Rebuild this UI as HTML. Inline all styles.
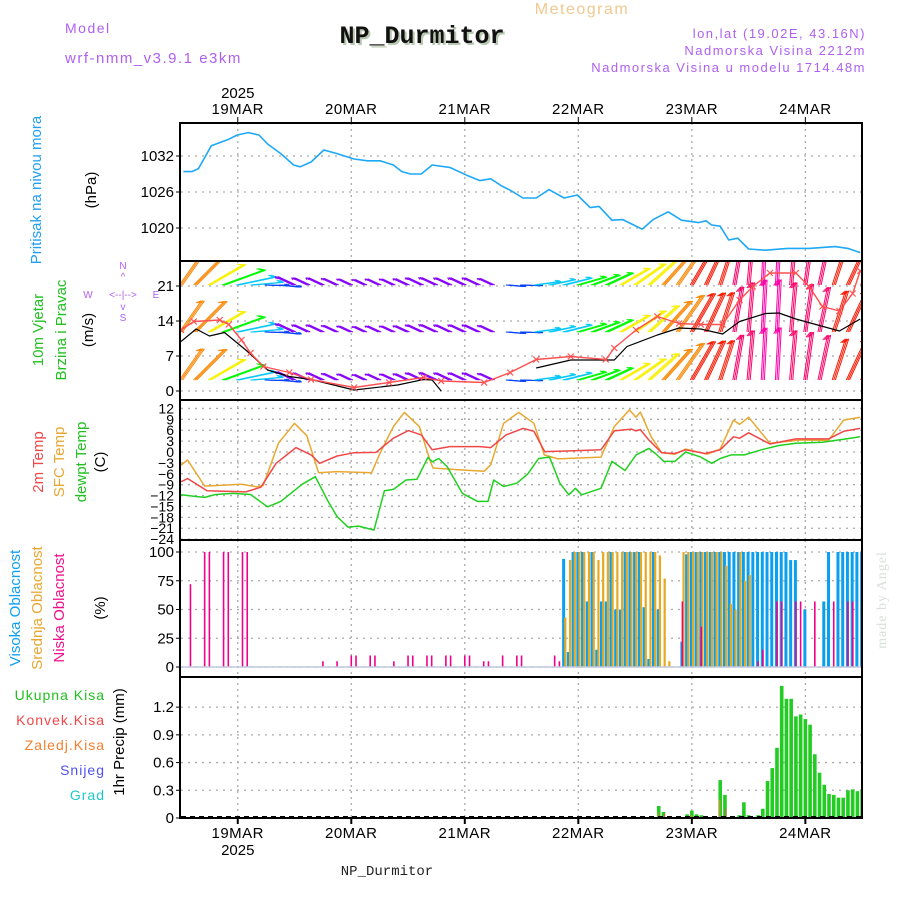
<!DOCTYPE html>
<html><head><meta charset="utf-8"><style>
body{margin:0;background:#fff;}
svg{display:block;font-family:"Liberation Sans",sans-serif;}
.hd{font-family:"Liberation Sans",sans-serif;font-size:14px;letter-spacing:1.5px;fill:#b060f0;}
.tk{font-size:15px;fill:#000;}
.vl{font-size:15px;}
</style></head><body>
<svg id="chart" width="900" height="900" viewBox="0 0 900 900">
<defs>
<clipPath id="cp1"><rect x="181" y="124" width="680" height="136"/></clipPath>
<clipPath id="cp2"><rect x="181" y="262" width="680" height="137"/></clipPath>
<clipPath id="cp3"><rect x="181" y="401" width="680" height="138"/></clipPath>
<clipPath id="cp4"><rect x="181" y="541" width="680" height="135"/></clipPath>
<clipPath id="cp5"><rect x="181" y="678" width="680" height="139"/></clipPath>
</defs>
<text x="65" y="33" class="hd">Model</text>
<text x="65" y="63" class="hd" style="font-size:15px">wrf-nmm_v3.9.1 e3km</text>
<text x="582" y="14" text-anchor="middle" style="font-size:16px;letter-spacing:1.5px;fill:#f0c890">Meteogram</text>
<text x="424" y="45" text-anchor="middle" style="font-family:'Liberation Mono','Courier New',monospace;font-weight:bold;font-size:25px;fill:#b8c8b0">NP_Durmitor</text>
<text x="422" y="43" text-anchor="middle" style="font-family:'Liberation Mono','Courier New',monospace;font-weight:bold;font-size:25px;fill:#111">NP_Durmitor</text>
<text x="866" y="38" text-anchor="end" class="hd" style="font-size:13px">lon,lat (19.02E, 43.16N)</text>
<text x="866" y="55" text-anchor="end" class="hd" style="font-size:13px">Nadmorska Visina 2212m</text>
<text x="866" y="72" text-anchor="end" class="hd" style="font-size:13px">Nadmorska Visina u modelu 1714.48m</text>

<g id="grid"></g>
<g id="marks"></g>
<g id="frames"></g>
<g id="axes"></g>

<text transform="translate(41,190) rotate(-90)" text-anchor="middle" class="vl" style="fill:#20a0f0">Pritisak na nivou mora</text>
<text transform="translate(96,190) rotate(-90)" text-anchor="middle" class="vl">(hPa)</text>
<text transform="translate(43,330) rotate(-90)" text-anchor="middle" class="vl" style="fill:#20c020">10m Vjetar</text>
<text transform="translate(66,330) rotate(-90)" text-anchor="middle" class="vl" style="fill:#20c020">Brzina i Pravac</text>
<text transform="translate(93,330) rotate(-90)" text-anchor="middle" class="vl">(m/s)</text>
<g style="font-size:10px;fill:#b060f0">
<text x="123" y="269" text-anchor="middle">N</text><text x="123" y="280" text-anchor="middle">^</text>
<text x="88" y="298" text-anchor="middle">W</text><text x="123" y="298" text-anchor="middle">&lt;--|--&gt;</text>
<text x="156" y="298" text-anchor="middle">E</text><text x="123" y="310" text-anchor="middle">v</text>
<text x="123" y="321" text-anchor="middle">S</text></g>
<text transform="translate(43,462) rotate(-90)" text-anchor="middle" class="vl" style="fill:#f04848">2m Temp</text>
<text transform="translate(64,462) rotate(-90)" text-anchor="middle" class="vl" style="fill:#e8a830">SFC Temp</text>
<text transform="translate(86,462) rotate(-90)" text-anchor="middle" class="vl" style="fill:#20c020">dewpt Temp</text>
<text transform="translate(105,462) rotate(-90)" text-anchor="middle" class="vl">(C)</text>
<text transform="translate(20,608) rotate(-90)" text-anchor="middle" class="vl" style="fill:#10a0f0">Visoka Oblacnost</text>
<text transform="translate(42,608) rotate(-90)" text-anchor="middle" class="vl" style="fill:#e8a830">Srednja Oblacnost</text>
<text transform="translate(64,608) rotate(-90)" text-anchor="middle" class="vl" style="fill:#f0108c">Niska Oblacnost</text>
<text transform="translate(105,608) rotate(-90)" text-anchor="middle" class="vl">(%)</text>
<g style="font-size:14px;letter-spacing:1px" text-anchor="end">
<text x="105" y="700" style="fill:#20c020">Ukupna  Kisa</text>
<text x="105" y="725" style="fill:#f04848">Konvek.Kisa</text>
<text x="105" y="750" style="fill:#f08030">Zaledj.Kisa</text>
<text x="105" y="775" style="fill:#5050f0">Snijeg</text>
<text x="105" y="800" style="fill:#20c8c8">Grad</text></g>
<text transform="translate(124,742) rotate(-90)" text-anchor="middle" class="vl">1hr Precip (mm)</text>
<text transform="translate(886,600) rotate(-90)" text-anchor="middle" style="font-family:'Liberation Serif',serif;font-size:14px;fill:#d8e0d8;letter-spacing:1px">made by Angel</text>
<text x="387" y="875" text-anchor="middle" style="font-family:'Liberation Mono',monospace;font-size:14px;fill:#222">NP_Durmitor</text>
</svg>
<script>
// ---- data ----
const dayHours=[12,36,60,84,108,132];
const dayLabels=['19MAR','20MAR','21MAR','22MAR','23MAR','24MAR'];
const presTicks=[1032,1026,1020];
const windTicks=[21,14,7,0];
const tempTicks=[12,9,6,3,0,-3,-6,-9,-12,-15,-18,-21,-24];
const cloudTicks=[100,75,50,25,0];
const precipTicks=[1.2,0.9,0.6,0.3,0];
const presH=[0.5,2.3,3.7,6.4,10.1,11.9,14.2,16.5,18.3,21.1,23.8,25.2,27.5,30.2,33,36.6,39.4,42.1,44.9,46.7,48.5,50.8,53.1,56.8,60.4,63.2,65.5,67.8,69.6,72.3,75.1,77.8,81,83.8,86.5,88.4,91.1,93.4,95.7,97.5,99.8,103,105.8,109.4,111,112.2,114,115.8,117.7,120,123.6,128.2,132.8,138.3,141,143.6];
const presV=[1029.4,1029.4,1029.9,1033.7,1034.8,1035.5,1035.9,1035.5,1034,1032.4,1030.5,1030.2,1031,1033,1032.4,1031.5,1031.2,1031.2,1030.5,1029.4,1029,1029,1030.5,1030.1,1028.8,1027.9,1028.2,1027,1026.3,1025,1025,1026.4,1025,1025.5,1023.4,1023.6,1021.3,1021.4,1020.5,1019.8,1021.4,1022.7,1021.3,1020.9,1021.2,1020.5,1020.3,1018,1018.3,1016.5,1016.3,1016.6,1016.6,1016.9,1016.6,1015.9];
const barbHours=[0,3,6,9,12,15,18,21,24,27,30,33,36,39,42,45,48,51,54,57,60,63,66,69,72,75,78,81,84,87,90,93,96,99,102,105,108,111,114,117,120,123,126,129,132,135,138,141,144];
const barbDir=[215,225,240,250,258,265,272,276,115,115,115,115,115,115,115,115,115,115,115,115,115,115,115,275,272,262,258,256,254,250,245,240,235,228,222,215,210,205,198,190,185,183,183,185,188,192,198,205,210];
const barbSpeed=[10,12,11,12,10,7,4,3,3,2,2,1.5,1,0.5,1,1,1.2,2,2.3,2,2,2,1.5,2,3,4.6,5,6,6.2,6.2,6.2,8,9.5,10.5,11.3,12.6,12.5,12,11.4,13,14.5,15.5,15.6,14.5,14,13,12,13,14.4];
const speedH=[0,3.2,6,9.2,13.7,18.3,22.9,27.5,36.6,45.8,51.3,53.1,55];
const speedV=[9.9,12.4,11,11.7,8.2,4.2,2.9,2.3,0.2,1.2,2.3,2.2,0];
const speed2H=[75.1,82.4,91.6,94.3,100.7,105.3,109.9,114.5,118.1,123.6,126.4,130,139.2,143.6];
const speed2V=[4.6,6.2,6.2,8.9,11.2,12.6,12.4,11.4,13.9,15.5,15.6,14.4,12,14.4];
const gustH=[0,2.7,8.2,10.1,12.8,14.7,17.4,22.9,27.5,36.6,44,51.3,55,64.1,69.6,75.1,82.4,89.8,91.6,96.2,100.7,105.3,109.9,114.5,118.1,120.9,124.5,130,132.8,135.6,139.2,142,143.6];
const gustV=[12.2,13.9,14.2,13.3,10.2,7.6,4.9,3.7,2.3,0.7,1.7,2.7,2,1.7,3.7,6.3,6.9,6.3,8.6,12.2,14.9,13.5,13.3,13.3,18.2,20.9,23.6,23.6,20.9,16.9,16,19.5,24];
const t2H=[0,1.4,5.5,13.7,16.9,20.1,24.3,27.5,29.3,33,36.6,41.2,44.9,48.1,50.8,53.1,56.8,63.2,65.5,68.7,72.3,74.6,76.9,82.4,88.8,91.6,95.2,96.2,97.1,98.9,101.6,104.4,106.7,110.8,114,116.8,118.1,120,124.5,130,136.9,140.1,143.6];
const t2V=[-8.2,-7.3,-10.7,-11,-9.7,-3.1,1.2,-0.8,-3.1,-1.1,-0.2,-0.1,3.8,5.9,4.7,0.6,1.5,1.5,1.2,4.7,6.5,5.7,0.1,0.3,0.6,5.8,6.3,5.8,6.2,3.3,-0.2,-0.4,0.6,-0.4,0.6,4.2,3.8,5.3,2.2,3.6,3.6,5.7,6.5];
const sfcH=[0,1.4,5,12.8,16,17.4,20.6,24,26.6,29.1,33,40.3,42.1,44.9,47.2,50.4,52.7,53.3,58.6,64.1,65.5,68.2,71.4,74.6,76.8,79.7,88.8,91.6,94.8,96.2,97.1,99.4,101.6,104.4,106.7,111.3,114,116.8,118.1,120,124.5,131,136.9,140.1,143.6];
const sfcV=[-3.6,-2.2,-9.4,-8.9,-9.6,-9.2,2.4,7.9,4.5,-5.7,-5.4,-5.7,-0.3,7,10.9,7,-2.6,-4.4,-4.9,-5.3,-3.5,7.9,10.9,7.9,-0.8,-1.9,-1.4,7,11.6,9.6,11,4.2,-0.2,-0.6,0.8,-0.6,0.8,8.8,7.6,9.6,2.4,3.3,3.2,8.8,9.6];
const dewH=[0,2.7,5,7.3,11,14.7,18.3,21.1,25.6,28.4,31.1,33,35.3,37.5,40.8,43,44.9,47.6,49.9,52.2,53.1,54.5,56.3,59.5,62.7,64.9,66.1,68.2,71,73.3,75.6,77.9,80.1,82,83.4,84.7,88.8,91.1,93.9,96.2,98.9,100.3,102.1,104.4,106.7,109.9,112.2,114,116.3,119.1,122.7,126.4,130,135.6,140.1,143.6];
const dewV=[-11.8,-12.2,-12.5,-11.7,-11.4,-11.7,-15.1,-13.6,-8.9,-6.8,-13.6,-17.8,-20.7,-20.4,-21.5,-10.7,-10.3,-7.7,-7.5,-1.5,-2.7,-1.8,-4.1,-11.4,-13.6,-13.6,-7.7,-9.5,-8.6,-6.1,-1.8,-1.4,-8.6,-11.8,-10,-11.8,-10,-2.6,-5.1,-0.8,1,-0.4,-2.6,-2.6,0,-1.4,-3.1,-1.8,-0.8,-0.8,0.6,1.8,2.4,2.7,3.5,4.2];
const highH=[81,82,83,84,85,86,87,88,89,90,91,92,93,94,95,96,97,98,99,100,101,106,107,108,109,110,111,112,113,114,115,116,117,118,119,120,121,122,123,124,125,126,127,128,129,130,132,136,137,139,140,141,142,143,144];
const highV=[94,13,100,100,100,57,100,15,57,57,100,50,50,100,100,100,100,52,7,100,50,22,98,100,100,100,100,100,100,100,100,100,100,100,100,100,100,100,100,100,100,100,100,100,93,93,50,57,100,100,100,100,100,100,100];
const midH=[81,82,83,84,85,86,87,88,89,90,91,92,93,94,95,96,97,98,99,100,101,102,103,106,107,108,109,110,111,112,113,114,115,116,117,118,119,120];
const midV=[43,93,100,100,100,100,100,93,100,100,100,100,100,100,100,100,100,100,100,100,97,77,5,100,100,100,100,100,100,100,100,100,88,55,50,100,75,80];
const lowH=[2,5,6,9,10,13,14,30,33,36,37,40,41,45,48,49,52,53,56,57,60,61,64,65,68,71,72,79,80,106,110,122,123,126,127,130,131,134,138,141,142];
const lowV=[72,100,100,100,100,100,100,5,5,10,10,10,10,5,10,10,10,10,10,10,10,10,5,5,10,10,10,10,5,57,35,5,15,57,57,57,57,57,57,57,57];
const rainH=[12,101,102,107,108,109,110,114,115,118,119,120,122,123,124,125,126,127,128,129,130,131,132,133,134,135,136,137,138,139,140,141,142,143,144];
const rainV=[0.01,0.13,0.065,0.04,0.08,0.04,0.03,0.41,0.25,0.03,0.17,0.03,0.03,0.1,0.4,0.54,0.76,1.43,1.29,1.29,1.1,1.12,1.07,1.01,0.69,0.49,0.36,0.26,0.25,0.22,0.22,0.3,0.31,0.29,0.31];
const frzH=[101,108,114];
const frzV=[0.06,0.03,0.2];
const convH=[102,103,115];
const convV=[0.05,0.01,0.1];

// ---- scales ----
const X=h=>181+4.73*h;
const yP=v=>156+(1032-v)*6;
const yW=v=>391-5*v;
const yT=v=>452-v*3.63;
const yC=v=>667-v*1.15;
const yR=v=>818-v*92.4;
const NS='http://www.w3.org/2000/svg';
function mk(tag,attrs,parent){const e=document.createElementNS(NS,tag);for(const k in attrs)e.setAttribute(k,attrs[k]);parent.appendChild(e);return e;}
const grid=document.getElementById('grid'),marks=document.getElementById('marks'),frames=document.getElementById('frames'),axes=document.getElementById('axes');
const panels=[[123,261],[261,400],[400,540],[540,677],[677,818]];

function hgrid(vals,yf,name){vals.forEach(v=>{const l=mk('line',{x1:181,x2:861,y1:yf(v),y2:yf(v),stroke:'#aaa','stroke-width':1.3,'stroke-dasharray':'2,5'},grid);


const t=mk('text',{x:174,y:yf(v)+5,'text-anchor':'end',class:'tk'},axes);t.textContent=v;


mk('line',{x1:176,x2:181,y1:yf(v),y2:yf(v),stroke:'#000'},axes);});}
hgrid(presTicks,yP,'pressure-gridline');
hgrid(windTicks,yW,'wind-gridline');
hgrid(cloudTicks,yC,'cloud-gridline');
hgrid(precipTicks,yR,'precip-gridline');
tempTicks.forEach(v=>{const l=mk('line',{x1:181,x2:861,y1:yT(v),y2:yT(v),stroke:'#aaa','stroke-width':1.3,'stroke-dasharray':'2,5'},grid);


const t=mk('text',{x:174,y:yT(v)+5,'text-anchor':'end',class:'tk',style:'font-size:14px'},axes);t.textContent=v<0?'\u2212'+(-v):v;

});
dayHours.forEach((h,i)=>{panels.forEach(p=>{const l=mk('line',{x1:X(h),x2:X(h),y1:p[0],y2:p[1],stroke:'#aaa','stroke-width':1.3,'stroke-dasharray':'2,4'},grid);

});
mk('line',{x1:X(h),x2:X(h),y1:117,y2:123,stroke:'#000'},axes);
mk('line',{x1:X(h),x2:X(h),y1:818,y2:824,stroke:'#000','stroke-width':2},axes);
const t=mk('text',{x:X(h),y:114,'text-anchor':'middle',class:'tk',style:'letter-spacing:0.5px'},axes);t.textContent=dayLabels[i];


const b=mk('text',{x:X(h),y:838,'text-anchor':'middle',class:'tk',style:'letter-spacing:0.5px'},axes);b.textContent=dayLabels[i];

});
{const t=mk('text',{x:X(dayHours[0]),y:98,'text-anchor':'middle',class:'tk'},axes);t.textContent='2025';


const b=mk('text',{x:X(dayHours[0]),y:855,'text-anchor':'middle',class:'tk'},axes);b.textContent='2025';

}

function line(hs,vs,yf,color,w,clip,name){const pts=hs.map((h,i)=>X(h).toFixed(1)+','+yf(vs[i]).toFixed(1)).join(' ');
const p=mk('polyline',{points:pts,fill:'none',stroke:color,'stroke-width':w,'stroke-linejoin':'round','clip-path':'url(#'+clip+')'},marks);

return p;}

line(presH,presV,yP,'#1ea8f8',1.6,'cp1','pressure-line');

const hueTable=[[115,272],[275,225],[262,192],[250,120],[235,58],[220,32],[205,5],[190,335],[180,320]];
function hueFor(d){let best=hueTable[0],bd=999;hueTable.forEach(e=>{let dd=Math.abs(e[0]-d);dd=Math.min(dd,360-dd);if(dd<bd){bd=dd;best=e;}});return best[1];}
const rows=[285,332,380];
const bg=mk('g',{'clip-path':'url(#cp2)'},marks);


barbHours.forEach((h,i)=>{const d=barbDir[i],s=barbSpeed[i];const to=(d+180)*Math.PI/180;const len=12+2.6*s;
const dx=Math.sin(to)*len,dy=-Math.cos(to)*len;const col='hsl('+hueFor(d)+',95%,50%)';
rows.forEach(r=>{for(let k=-1;k<=1;k++){const x0=X(h)+k*1.58;
const l=mk('line',{x1:x0,y1:r,x2:x0+dx,y2:r+dy,stroke:col,'stroke-width':1},bg);


mk('line',{x1:x0+dx,y1:r+dy,x2:x0+dx*0.88+dy*0.08,y2:r+dy*0.88-dx*0.08,stroke:col,'stroke-width':1},bg);}});});
line(speedH,speedV,yW,'#000',1.2,'cp2','wind-speed-line');
line(speed2H,speed2V,yW,'#000',1.2,'cp2','wind-speed-line-late');
line(gustH,gustV,yW,'#ff5050',1.4,'cp2','wind-gust-line');
gustH.forEach((h,i)=>{const x=X(h),y=yW(gustV[i]);const m=mk('path',{d:`M${x-3},${y-3}L${x+3},${y+3}M${x-3},${y+3}L${x+3},${y-3}`,stroke:'#ff5050','stroke-width':1.2,'clip-path':'url(#cp2)'},marks);

});

line(sfcH,sfcV,yT,'#e8a830',1.5,'cp3','sfc-temp-line');
line(t2H,t2V,yT,'#f04848',1.5,'cp3','temp-2m-line');
line(dewH,dewV,yT,'#20d020',1.5,'cp3','dewpoint-line');

function bars(hs,vs,yf,color,w,off,clip,name){hs.forEach((h,i)=>{const y=yf(vs[i]);const b=mk('rect',{x:X(h)+off-w/2,y:y,width:w,height:Math.max(0,yf(0)-y),fill:color,'clip-path':'url(#'+clip+')'},marks);

});}
bars(highH,highV,yC,'#0aa0f0',3,-0.5,'cp4','high-cloud-bar');
bars(midH,midV,yC,'#e8a820',2.2,1.2,'cp4','mid-cloud-bar');
bars(lowH,lowV,yC,'#f0008c',1.6,0,'cp4','low-cloud-bar');
mk('line',{x1:181,x2:861,y1:yC(0),y2:yC(0),stroke:'#c0c8e0','stroke-width':1.5},marks);

bars(rainH,rainV,yR,'#22cc22',3.6,0,'cp5','total-precip-bar');
bars(frzH,frzV,yR,'#f08030',1.2,-0.5,'cp5','freezing-precip-bar');
bars(convH,convV,yR,'#f04848',1,1,'cp5','convective-precip-bar');
mk('line',{x1:181,x2:861,y1:817,y2:817,stroke:'#000','stroke-width':2,'stroke-dasharray':'5,4'},marks);

panels.forEach((p,i)=>{const r=mk('rect',{x:180,y:p[0],width:682,height:p[1]-p[0],fill:'none',stroke:'#000','stroke-width':2},frames);

});
</script>
</body></html>
